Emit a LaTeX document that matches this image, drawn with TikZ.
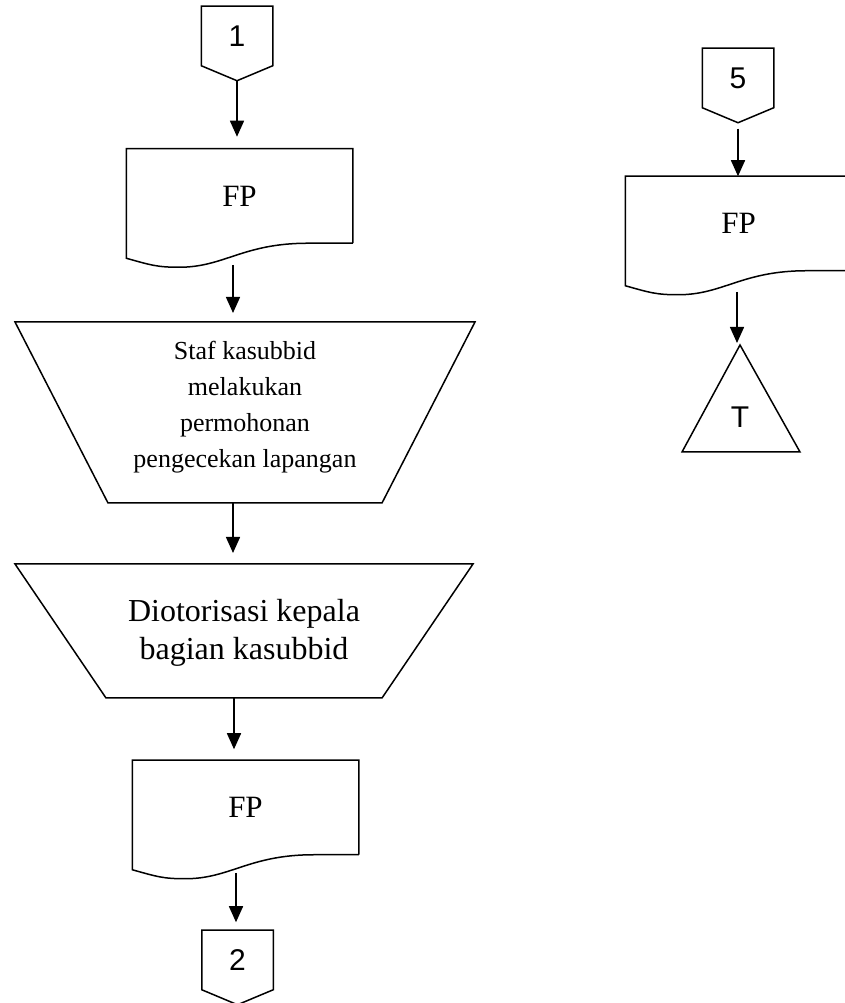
\documentclass[tikz,border=0pt]{standalone}
\usepackage{fontspec}
\setmainfont{Liberation Serif}
\newfontfamily\connfont{Liberation Sans}
\usetikzlibrary{calc,arrows.meta}

\newcommand{\offpage}[1]{%
  \draw (#1.south west) -- (#1.north west) -- (#1.north east) -- (#1.south east)
  -- ($(#1.south)+(0,-15)$) -- cycle;
  \coordinate (#1-tip) at ($(#1.south)+(0,-15)$);}
\newcommand{\docshape}[1]{%
  \draw (#1.south east) -- (#1.north east) -- (#1.north west) -- ($(#1.south west)+(0,-15)$)
  .. controls +(25,-7) and +(-22,0) .. ($(#1.south west)+(53,-24)$)
  .. controls +(45,0) and +(-65,0) .. ($(#1.south east)+(-45,0)$) -- (#1.south east);}
\newcommand{\trapshape}[5]{%
  \draw ($(#1)+(-#2,#4)$) -- ($(#1)+(#2,#4)$) -- ($(#1)+(#3,-#5)$) -- ($(#1)+(-#3,-#5)$) -- cycle;
  \coordinate (#1-top) at ($(#1)+(0,#4)$);
  \coordinate (#1-bot) at ($(#1)+(0,-#5)$);}

\begin{document}
\begin{tikzpicture}[x=1pt,y=1pt,line width=1.5pt,
    arr/.style={-{Triangle[length=16pt,width=14pt]}},
    conn/.style={minimum width=70pt,minimum height=58pt,inner sep=0pt,
      font=\connfont\fontsize{30}{32}\selectfont},
    doc/.style={minimum width=225pt,minimum height=93pt,inner sep=0pt,
      font=\fontsize{31}{36}\selectfont}]
  \useasboundingbox (0,0) rectangle (844,1003);

  \node[conn] (c1) at (237,967) {1};
  \node[doc] (fp1) at (239.5,807) {FP};
  \node[align=center,inner sep=0pt,font=\fontsize{26}{36}\selectfont] (t1) at (245,596)
    {Staf kasubbid\\melakukan\\permohonan\\pengecekan lapangan};
  \node[align=center,inner sep=0pt,font=\fontsize{32}{38}\selectfont] (t2) at (244,370)
    {Diotorisasi kepala\\bagian kasubbid};
  \node[doc] (fp2) at (245.5,195.5) {FP};
  \node[conn] (c2) at (237.5,43) {2};

  \node[conn] (c5) at (738,925) {5};
  \node[doc] (fp3) at (738.5,779.5) {FP};
  \node[inner sep=0pt,font=\connfont\fontsize{30}{32}\selectfont] (T) at (740,586) {T};

  \offpage{c1}
  \docshape{fp1}
  \trapshape{t1}{230}{137}{85}{96}
  \trapshape{t2}{229}{138}{69}{65}
  \docshape{fp2}
  \offpage{c2}
  \offpage{c5}
  \docshape{fp3}
  \draw ($(T)+(0,72)$) -- ($(T)+(60,-35)$) -- ($(T)+(-58,-35)$) -- cycle;
  \coordinate (T-top) at ($(T)+(0,72)$);

  \coordinate (fp1-out) at (233,738);
  \coordinate (t1-out) at ($(t1-bot)+(-12,0)$);
  \coordinate (t2-out) at ($(t2-bot)+(-10,0)$);
  \coordinate (fp2-out) at (236,130);
  \coordinate (fp3-out) at (737,711);
  \draw[arr,shorten >=12pt] (c1-tip) -- (c1-tip |- fp1.north);
  \draw[arr,shorten >=9pt] (fp1-out) -- (fp1-out |- t1-top);
  \draw[arr,shorten >=11pt] (t1-out) -- (t1-out |- t2-top);
  \draw[arr,shorten >=11pt] (t2-out) -- (t2-out |- fp2.north);
  \draw[arr,shorten >=8pt] (fp2-out) -- (fp2-out |- c2.north);
  \draw[arr,shorten <=6pt] (c5-tip) -- (c5-tip |- fp3.north);
  \draw[arr,shorten >=2pt] (fp3-out) -- (fp3-out |- T-top);
\end{tikzpicture}
\end{document}
